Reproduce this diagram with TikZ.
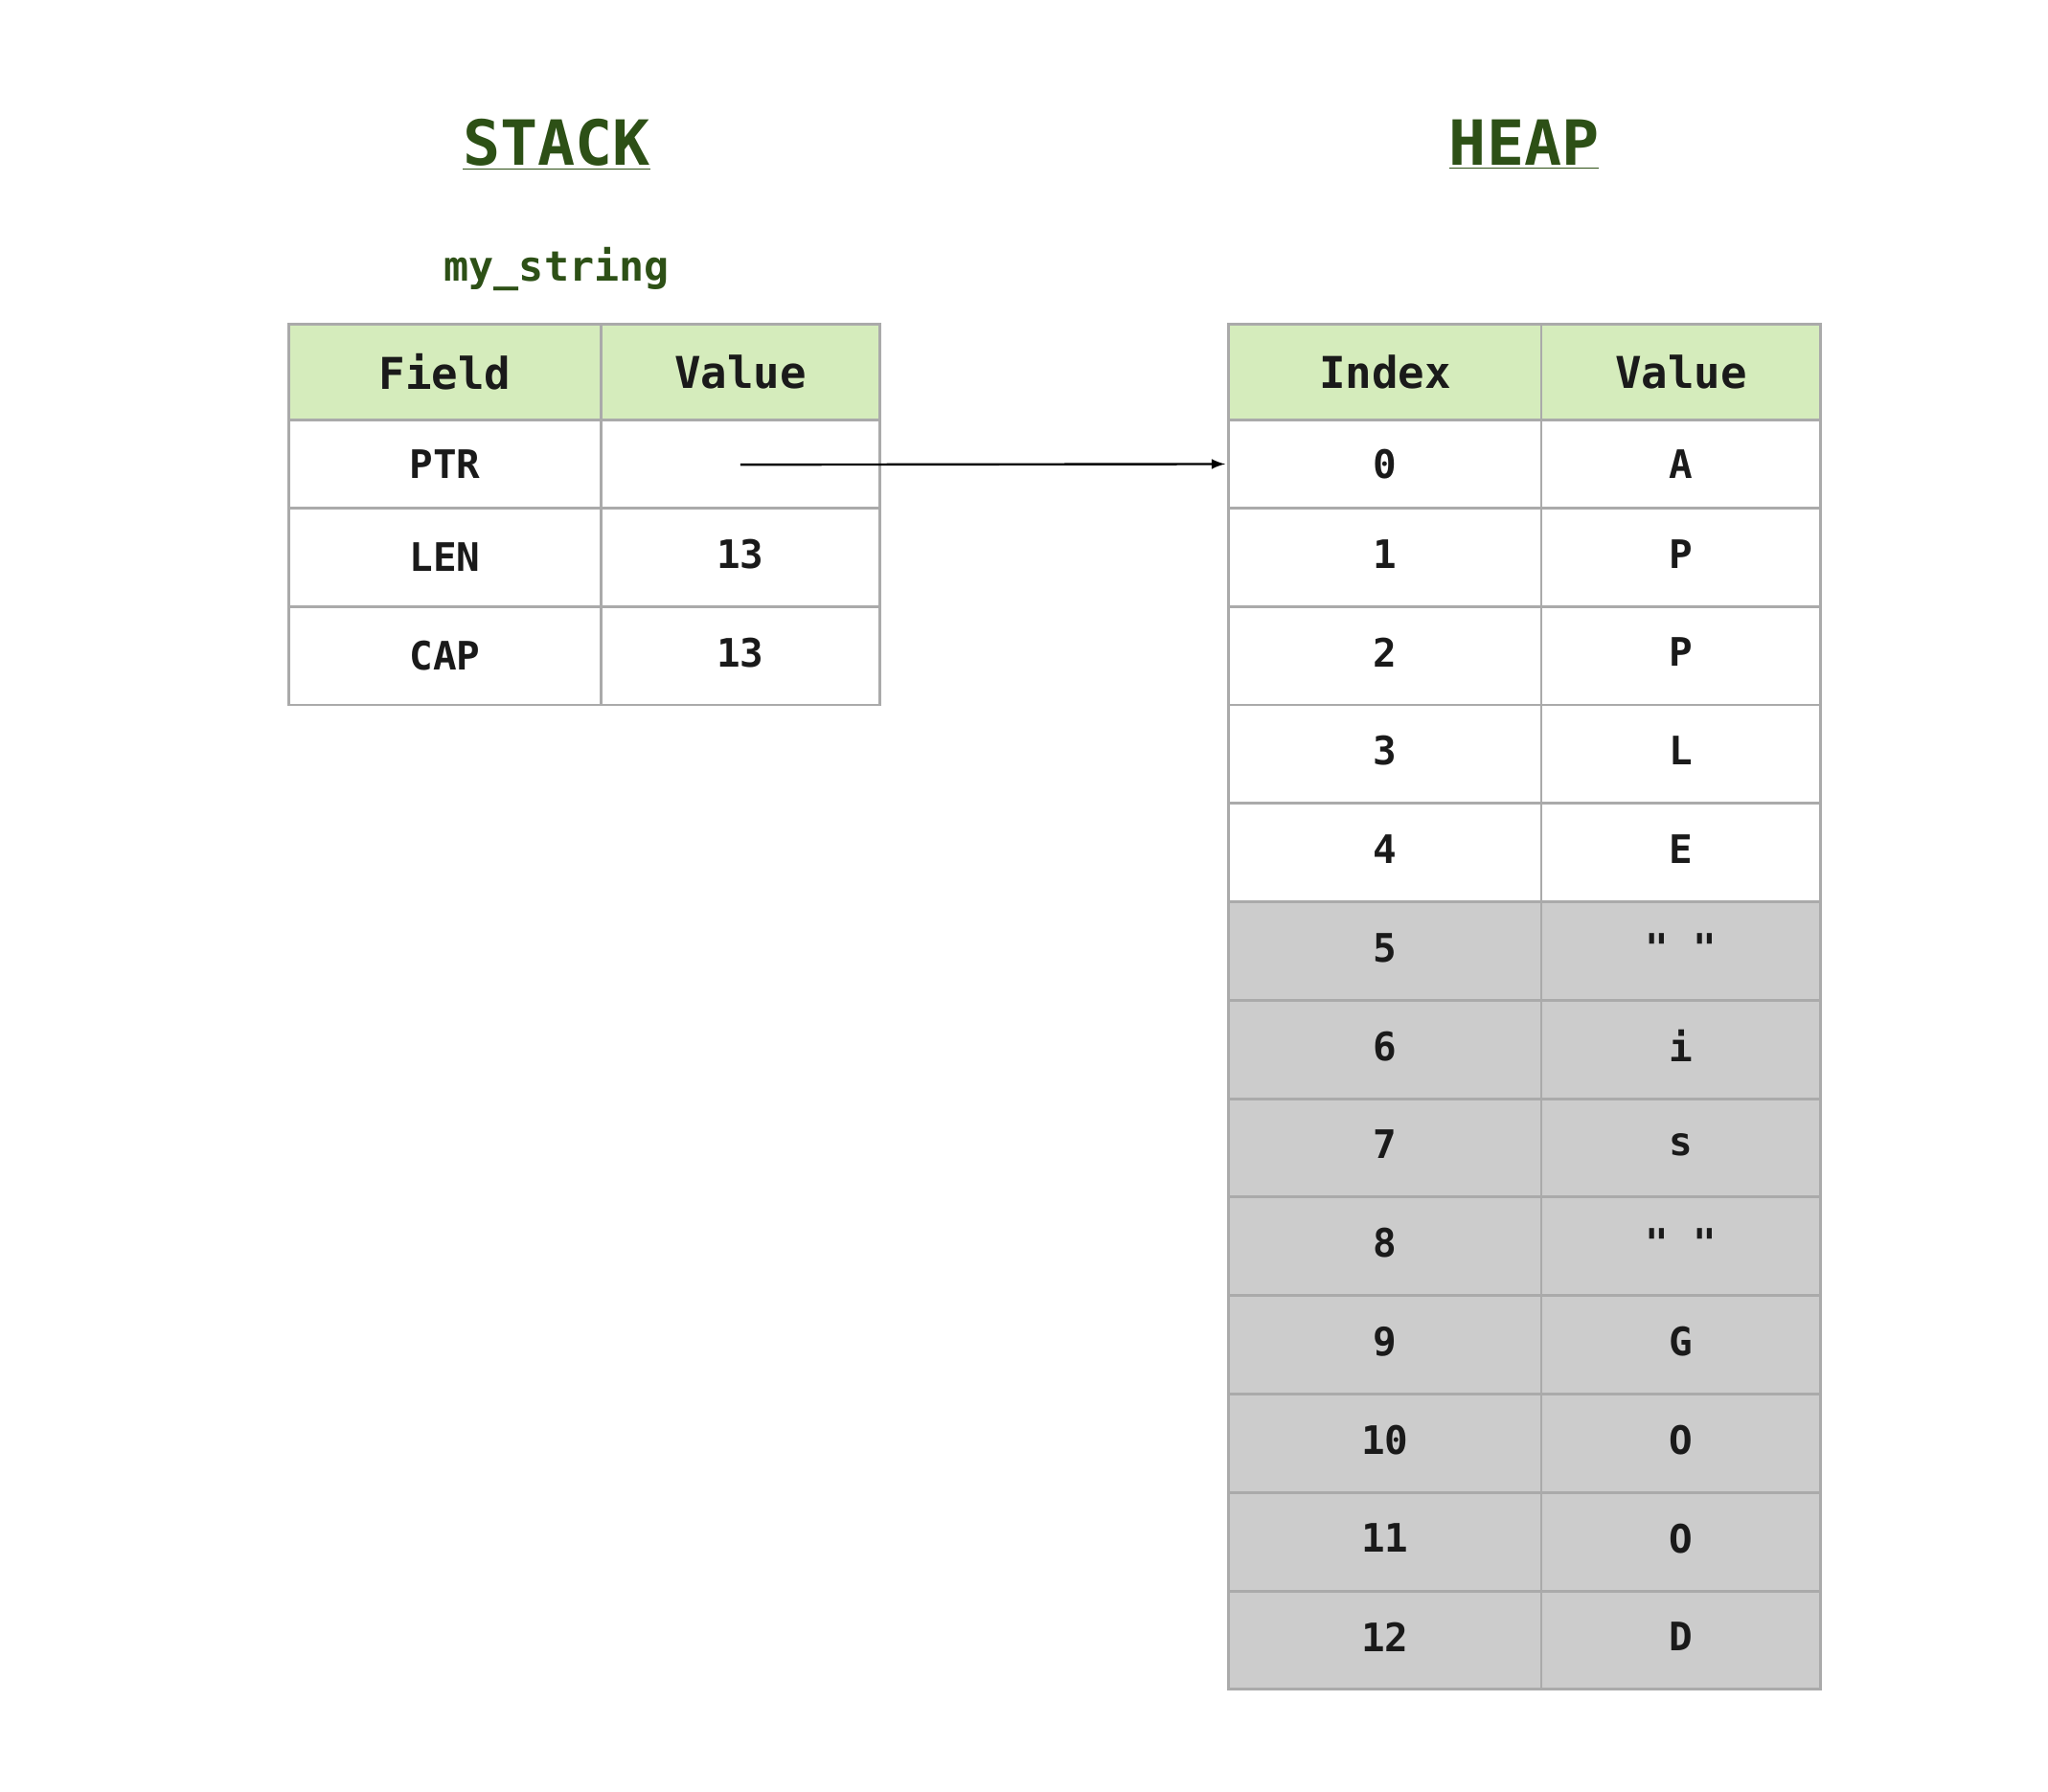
\documentclass[tikz,border=0pt]{standalone}
\usepackage{fontspec}
\setmonofont{DejaVu Sans Mono}
\usetikzlibrary{positioning}
\definecolor{titlegreen}{HTML}{2D5016}
\definecolor{headgreen}{HTML}{D5ECBC}
\definecolor{cellline}{HTML}{AAAAAA}
\definecolor{cellgray}{HTML}{CCCCCC}
\definecolor{inkblack}{HTML}{1A1A1A}
\begin{document}
\begin{tikzpicture}[x=0.02cm,y=-0.02cm,>=latex,font=\ttfamily\bfseries]
    \tikzstyle{title}=[text=titlegreen,font=\ttfamily\bfseries\fontsize{27}{30}\selectfont]
    \tikzstyle{cell}=[draw=cellline,line width=1.2pt,inner sep=0pt,text=inkblack,font=\ttfamily\bfseries\fontsize{17}{20}\selectfont]
    \tikzstyle{head}=[cell,fill=headgreen,font=\ttfamily\bfseries\fontsize{19}{22}\selectfont]
    \tikzstyle{spare}=[cell,fill=cellgray]

    \useasboundingbox (0,0) rectangle (1560,1365);

    \node[title] (stack) at (424,110) {\underline{STACK}};
    \node[title] (heap) at (1161,110) {\underline{HEAP}};
    \node[text=titlegreen,font=\ttfamily\bfseries\fontsize{18}{20}\selectfont] (name) at (424,205) {my\_string};

    % stack table
    \node[head,minimum width=238*0.02cm,minimum height=73*0.02cm] (fh) at (339,283.5) {Field};
    \node[head,minimum width=212*0.02cm,minimum height=73*0.02cm] (vh) at (564,283.5) {Value};
    \node[cell,minimum width=238*0.02cm,minimum height=67*0.02cm] (ptr) at (339,353.5) {PTR};
    \node[cell,minimum width=212*0.02cm,minimum height=67*0.02cm] (ptrv) at (564,353.5) {};
    \node[cell,minimum width=238*0.02cm,minimum height=75*0.02cm] (len) at (339,424.5) {LEN};
    \node[cell,minimum width=212*0.02cm,minimum height=75*0.02cm] (lenv) at (564,424.5) {\raisebox{3pt}{13}};
    \node[cell,minimum width=238*0.02cm,minimum height=75*0.02cm] (cap) at (339,499.5) {CAP};
    \node[cell,minimum width=212*0.02cm,minimum height=75*0.02cm] (capv) at (564,499.5) {\raisebox{3pt}{13}};

    % heap table
    \node[head,minimum width=238*0.02cm,minimum height=73*0.02cm] (ih) at (1055,283.5) {Index};
    \node[head,minimum width=213*0.02cm,minimum height=73*0.02cm] (hh) at (1280.5,283.5) {Value};
    \node[cell,minimum width=238*0.02cm,minimum height=67*0.02cm] (i0) at (1055,353.5) {0};
    \node[cell,minimum width=213*0.02cm,minimum height=67*0.02cm] (v0) at (1280.5,353.5) {A};
    \foreach \i/\v in {1/P,2/P,3/L,4/E} {
        \node[cell,minimum width=238*0.02cm,minimum height=75*0.02cm] (i\i) at (1055,349.5+75*\i) {\raisebox{3pt}{\i}};
        \node[cell,minimum width=213*0.02cm,minimum height=75*0.02cm] (v\i) at (1280.5,349.5+75*\i) {\raisebox{3pt}{\v}};
    }
    \foreach \i/\v in {5/{" "},6/i,7/s,8/{" "},9/G,10/O,11/O,12/D} {
        \node[spare,minimum width=238*0.02cm,minimum height=75*0.02cm] (i\i) at (1055,349.5+75*\i) {\raisebox{3pt}{\i}};
        \node[spare,minimum width=213*0.02cm,minimum height=75*0.02cm] (v\i) at (1280.5,349.5+75*\i) {\raisebox{3pt}{\v}};
    }

    \coordinate (ptrstart) at (564,354);
    \draw[->,line width=1pt,shorten >=1pt] (ptrstart) -- (i0.west);
\end{tikzpicture}
\end{document}
